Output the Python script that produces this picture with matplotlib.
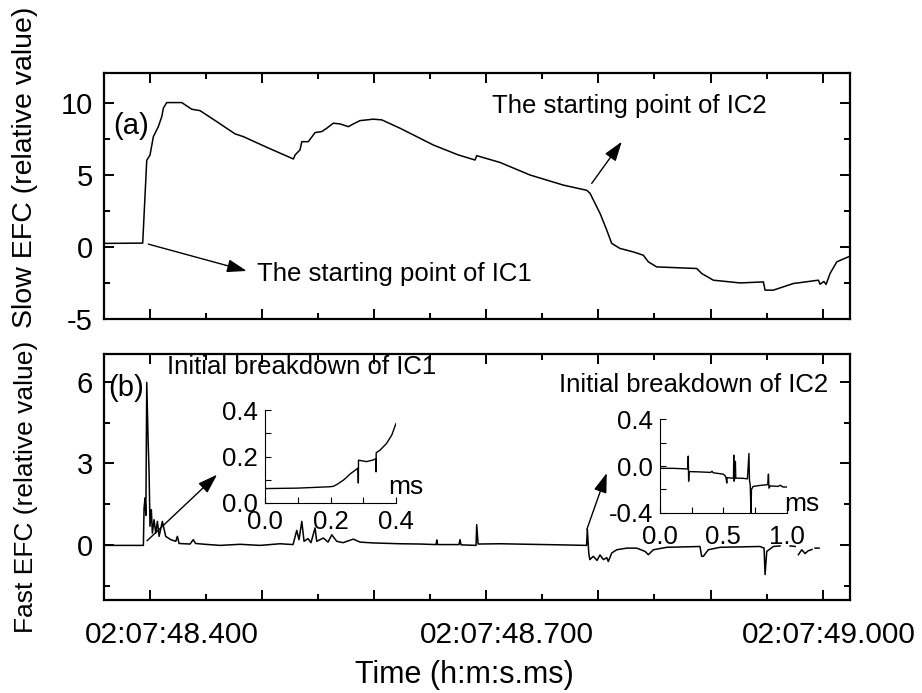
import numpy as np
import matplotlib
matplotlib.use("Agg")
import matplotlib.pyplot as plt
from matplotlib.ticker import MultipleLocator
from matplotlib.transforms import ScaledTranslation

plt.rcParams['font.family'] = ['Liberation Sans', 'DejaVu Sans']
plt.rcParams['axes.unicode_minus'] = False

# time axis in seconds after 02:07:00
slow_t = [48.3603, 48.3939, 48.3975, 48.4004, 48.4034, 48.4078, 48.4109, 48.4123,
          48.4153, 48.4287, 48.4376, 48.4450, 48.4599, 48.4762, 48.4836, 48.5045,
          48.5282, 48.5297, 48.5341, 48.5357, 48.5415, 48.5460, 48.5475, 48.5535,
          48.5579, 48.5638, 48.5698, 48.5772, 48.5816, 48.5876, 48.5995, 48.6070,
          48.6233, 48.6381, 48.6529, 48.6752, 48.6901, 48.6916, 48.7124, 48.7391,
          48.7688, 48.7897, 48.7926, 48.8015, 48.8075, 48.8119, 48.8193, 48.8312,
          48.8401, 48.8446, 48.8520, 48.8877, 48.8922, 48.9025, 48.9263, 48.9471,
          48.9486, 48.9560, 48.9738, 48.9961, 48.9976, 49.0010, 49.0030, 49.0065,
          49.0125, 49.0214, 49.0243]
slow_v = [0.24, 0.26, 6.00, 6.36, 7.64, 8.33, 9.03, 9.61,
          10.00, 10.00, 9.54, 9.44, 8.68, 7.83, 7.64, 6.90,
          6.09, 6.37, 6.72, 7.29, 7.29, 7.76, 7.92, 7.99,
          8.22, 8.57, 8.52, 8.33, 8.52, 8.75, 8.85, 8.80,
          8.22, 7.64, 7.06, 6.37, 6.02, 6.32, 5.85, 4.98,
          4.28, 3.92, 3.71, 2.32, 1.16, 0.24, -0.11, -0.35,
          -0.58, -1.04, -1.39, -1.50, -1.85, -2.31, -2.50, -2.43,
          -3.00, -3.00, -2.54, -2.31, -2.59, -2.40, -2.60, -1.85,
          -1.04, -0.74, -0.65]

fast_t = [48.3603, 48.3945, 48.3951, 48.3960, 48.3967, 48.3975, 48.3987, 48.3996,
          48.4004, 48.4016, 48.4025, 48.4040, 48.4055, 48.4070, 48.4085, 48.4114,
          48.4144, 48.4189, 48.4234, 48.4248, 48.4263, 48.4361, 48.4390, 48.4410,
          48.4495, 48.4628, 48.4807, 48.4985, 48.5163, 48.5279, 48.5312, 48.5332,
          48.5357, 48.5377, 48.5412, 48.5439, 48.5475, 48.5490, 48.5549, 48.5591,
          48.5624, 48.5668, 48.5725, 48.5816, 48.5876, 48.5995, 48.6233, 48.6411,
          48.6554, 48.6560, 48.6567, 48.6758, 48.6767, 48.6776, 48.6910, 48.6916,
          48.6928, 48.7124, 48.7391, 48.7659, 48.7895, 48.7902, 48.7915, 48.7924,
          48.7955, 48.7988, 48.8015, 48.8045, 48.8075, 48.8089, 48.8119, 48.8164,
          48.8253, 48.8342, 48.8416, 48.8446, 48.8490, 48.8610, 48.8906, 48.8921,
          48.8936, 48.8980, 48.9085, 48.9441, 48.9477, 48.9486, 48.9501, 48.9560,
          48.9619, np.nan, 48.9709, 48.9754, np.nan, 48.9783, 48.9813, 48.9843,
          48.9869, 48.9904, np.nan, 48.9931, 48.9967]
fast_v = [0.00, 0.00, 1.37, 1.74, 1.10, 5.97, 3.87, 2.65,
          0.70, 1.31, 0.45, 0.94, 0.45, 0.88, 0.33, 0.88,
          0.33, 0.21, 0.15, 0.33, 0.07, 0.05, 0.21, 0.07,
          0.04, 0.00, 0.04, 0.00, 0.06, 0.03, 0.55, 0.21,
          0.88, 0.15, 0.25, 0.10, 0.64, 0.15, 0.27, 0.12,
          0.39, 0.15, 0.10, 0.23, 0.12, 0.09, 0.06, 0.05,
          0.03, 0.20, 0.03, 0.03, 0.21, 0.02, 0.00, 0.76,
          0.05, 0.06, 0.04, 0.02, 0.00, 0.58, -0.30, -0.52,
          -0.40, -0.55, -0.35, -0.52, -0.45, -0.59, -0.28, -0.16,
          -0.10, -0.10, -0.22, -0.34, -0.16, -0.07, -0.04, -0.40,
          -0.40, -0.16, -0.07, -0.04, -0.10, -1.07, -0.22, -0.04,
          -0.02, np.nan, -0.02, -0.04, np.nan, -0.34, -0.16, -0.30,
          -0.20, -0.15, np.nan, -0.10, -0.10]

# insets, time in ms
ib1_t = [0.0, 0.10, 0.20, 0.209, 0.22, 0.239, 0.245, 0.26, 0.284, 0.285, 0.2855,
         0.29, 0.31, 0.33, 0.338, 0.339, 0.3395, 0.351, 0.371, 0.387, 0.400]
ib1_v = [0.062, 0.064, 0.070, 0.072, 0.080, 0.098, 0.105, 0.125, 0.150, 0.086, 0.184,
         0.183, 0.178, 0.185, 0.190, 0.134, 0.216, 0.227, 0.256, 0.292, 0.342]

ib2_t = [0.0, 0.10, 0.22, 0.223, 0.226, 0.23, 0.30, 0.40, 0.41, 0.42, 0.50, 0.515,
         0.52, 0.527, 0.53, 0.58, 0.582, 0.585, 0.59, 0.595, 0.598, 0.65, 0.69,
         0.702, 0.706, 0.712, 0.718, 0.722, 0.735, 0.80, 0.85, 0.856, 0.86, 0.87,
         0.93, 0.95, 0.97, 1.0]
ib2_v = [-0.02, -0.02, -0.025, 0.085, -0.13, -0.048, -0.05, -0.055, -0.045, -0.058,
         -0.07, -0.085, -0.096, -0.146, -0.10, -0.105, 0.093, -0.13, -0.10, 0.04,
         -0.104, -0.105, -0.11, 0.107, -0.12, -0.16, -0.40, -0.20, -0.175, -0.165,
         -0.16, -0.07, -0.19, -0.17, -0.175, -0.165, -0.18, -0.18]

major_ticks = [48.4, 48.5, 48.6, 48.7, 48.8, 48.9, 49.0]
tick_labels = ['02:07:48.400', '', '', '02:07:48.700', '', '', '02:07:49.000']
label_shift_px = [22, 0, 0, 21, 0, 0, 6]

fig = plt.figure(figsize=(9.22, 6.93), dpi=100)
ax1 = fig.add_axes([104/922, 1-319/693, 746/922, 246/693])
ax2 = fig.add_axes([104/922, 1-600/693, 746/922, 246/693])

for ax in (ax1, ax2):
    ax.set_xlim(48.3594, 49.0243)
    ax.set_xticks(major_ticks)
    ax.xaxis.set_minor_locator(MultipleLocator(0.05))
    ax.tick_params(which='both', direction='in', top=True, right=True, width=1.4)
    ax.tick_params(axis='x', labelsize=21.5, pad=15)
    ax.tick_params(axis='y', labelsize=21, pad=8)
    ax.tick_params(which='major', length=7)
    ax.tick_params(which='minor', length=4)
    for s in ax.spines.values():
        s.set_linewidth(1.6)

ax1.plot(slow_t, slow_v, color='k', lw=1.1)
ax1.set_ylim(-5, 12.05)
ax1.set_yticks([-5, 0, 5, 10])
ax1.yaxis.set_minor_locator(MultipleLocator(2.5))
ax1.tick_params(labelbottom=False)
ax1.set_ylabel('Slow EFC (relative value)', fontsize=20.5)
ax1.yaxis.set_label_coords(-0.088, 0.618)

ax2.plot(fast_t, fast_v, color='k', lw=1.1)
ax2.set_ylim(-2, 7.01)
ax2.set_yticks([0, 3, 6])
ax2.yaxis.set_minor_locator(MultipleLocator(1.5))
ax2.set_xticklabels(tick_labels)
for lab, dx in zip(ax2.get_xticklabels(), label_shift_px):
    lab.set_transform(lab.get_transform() + ScaledTranslation(dx/100, 0, fig.dpi_scale_trans))
ax2.set_ylabel('Fast EFC (relative value)', fontsize=19)
ax2.yaxis.set_label_coords(-0.088, 0.459)
ax2.set_xlabel('Time (h:m:s.ms)', fontsize=22)
ax2.xaxis.set_label_coords(0.483, -0.245)

arrow = dict(arrowstyle='-|>,head_length=0.6,head_width=0.2', color='k', lw=1.0,
             shrinkA=0, shrinkB=0, mutation_scale=20)

ax1.text(48.3675, 8.4, '(a)', fontsize=21, va='center', ha='left')
ax1.annotate('', xy=(48.4866, -1.67), xytext=(48.3989, 0.19), arrowprops=arrow)
ax1.text(48.4958, -1.85, 'The starting point of IC1', fontsize=18.5, va='center', ha='left')
ax1.annotate('', xy=(48.8209, 7.29), xytext=(48.7941, 4.40), arrowprops=arrow)
ax1.text(48.7053, 9.77, 'The starting point of IC2', fontsize=18.5, va='center', ha='left')

ax2.text(48.3630, 5.75, '(b)', fontsize=21, va='center', ha='left')
ax2.annotate('', xy=(48.4602, 2.59), xytext=(48.3978, 0.17), arrowprops=arrow)
ax2.text(48.4156, 6.55, 'Initial breakdown of IC1', fontsize=18.5, va='center', ha='left')
ax2.annotate('', xy=(48.8075, 2.65), xytext=(48.7897, 0.58), arrowprops=arrow)
ax2.text(49.0047, 5.89, 'Initial breakdown of IC2', fontsize=18.5, va='center', ha='right')

ins1 = fig.add_axes([265/922, 1-503/693, 131/922, 93/693])
ins1.plot(ib1_t, ib1_v, color='k', lw=1.0)
ins1.set_xlim(0, 0.4)
ins1.set_ylim(0, 0.4)
ins1.set_xticks([0.0, 0.2, 0.4])
ins1.set_yticks([0.0, 0.2, 0.4])
ins1.xaxis.set_minor_locator(MultipleLocator(0.1))
ins1.yaxis.set_minor_locator(MultipleLocator(0.1))
ins1.tick_params(axis='x', pad=5)

ins2 = fig.add_axes([660/922, 1-512.7/693, 126.7/922, 93.4/693])
ins2.plot(ib2_t, ib2_v, color='k', lw=1.0)
ins2.set_xlim(0, 1.0)
ins2.set_ylim(-0.4, 0.4)
ins2.set_xticks([0.0, 0.5, 1.0])
ins2.set_yticks([-0.4, 0.0, 0.4])
ins2.xaxis.set_minor_locator(MultipleLocator(0.25))
ins2.yaxis.set_minor_locator(MultipleLocator(0.2))
ins2.tick_params(axis='x', pad=9)

for ins in (ins1, ins2):
    ins.patch.set_alpha(0)
    ins.spines['top'].set_visible(False)
    ins.spines['right'].set_visible(False)
    for s in ('left', 'bottom'):
        ins.spines[s].set_linewidth(0.8)
    ins.tick_params(which='both', direction='in', width=0.8, labelsize=18.5)
    ins.tick_params(which='major', length=4)
    ins.tick_params(which='minor', length=4)
    ins.tick_params(axis='y', pad=5)
    ins.xaxis.set_major_formatter(plt.FuncFormatter(lambda v, p: f'{v:.1f}'))
    ins.yaxis.set_major_formatter(plt.FuncFormatter(lambda v, p: f'{v:.1f}'))

ins1.text(0.94, 0.17, 'ms', fontsize=19, transform=ins1.transAxes, ha='left', va='center')
ins2.text(0.98, 0.09, 'ms', fontsize=19, transform=ins2.transAxes, ha='left', va='center')

fig.savefig('out.png', dpi=100)
